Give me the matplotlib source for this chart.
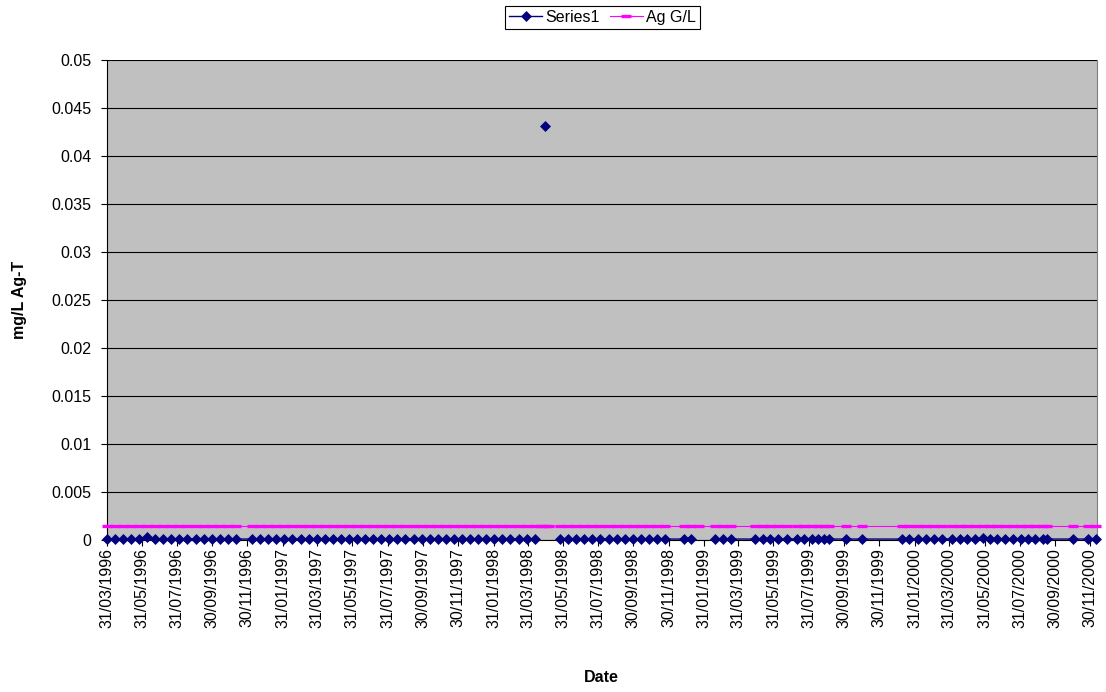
import numpy as np
import matplotlib
matplotlib.use("Agg")
import matplotlib.pyplot as plt
import matplotlib.dates as mdates
from datetime import datetime

plt.rcParams['font.family'] = ['Liberation Sans', 'DejaVu Sans']

# sample dates (rows of the sheet), Ag-T result (nan = blank cell), guideline value
sample_dates = [
    '1996-03-31', '1996-04-14', '1996-04-28', '1996-05-12', '1996-05-26', '1996-06-09',
    '1996-06-23', '1996-07-07', '1996-07-21', '1996-08-04', '1996-08-18', '1996-09-01',
    '1996-09-15', '1996-09-29', '1996-10-13', '1996-10-27', '1996-11-10',
    '1996-12-08', '1996-12-22', '1997-01-05', '1997-01-19', '1997-02-02', '1997-02-16',
    '1997-03-02', '1997-03-16', '1997-03-30', '1997-04-13', '1997-04-27', '1997-05-11',
    '1997-05-25', '1997-06-08', '1997-06-22', '1997-07-06', '1997-07-20', '1997-08-03',
    '1997-08-17', '1997-08-31', '1997-09-14', '1997-09-28', '1997-10-12', '1997-10-26',
    '1997-11-09', '1997-11-23', '1997-12-07', '1997-12-21', '1998-01-04', '1998-01-18',
    '1998-02-01', '1998-02-15', '1998-03-01', '1998-03-15', '1998-03-29', '1998-04-12',
    '1998-04-23', '1998-04-30', '1998-05-07',
    '1998-05-26', '1998-06-09', '1998-06-23', '1998-07-07', '1998-07-21', '1998-08-04',
    '1998-08-18', '1998-09-01', '1998-09-15', '1998-09-29', '1998-10-13', '1998-10-27',
    '1998-11-10', '1998-11-24',
    '1998-12-26', '1999-01-08', '1999-01-22',
    '1999-02-19', '1999-03-05', '1999-03-19',
    '1999-04-29', '1999-05-12', '1999-05-25', '1999-06-08', '1999-06-24', '1999-07-10',
    '1999-07-23', '1999-08-05', '1999-08-17', '1999-08-27', '1999-09-04',
    '1999-10-03', '1999-10-31',
    '2000-01-09', '2000-01-21', '2000-02-05', '2000-02-19', '2000-03-05', '2000-03-19',
    '2000-04-05', '2000-04-19', '2000-05-01', '2000-05-15', '2000-05-28', '2000-06-10',
    '2000-06-22', '2000-07-05', '2000-07-20', '2000-08-02', '2000-08-15', '2000-08-27',
    '2000-09-10', '2000-09-17',
    '2000-10-31', '2000-11-27', '2000-12-10',
]

nan = np.nan
ag_t = [
    0.0001, 0.0001, 0.0001, 0.0001, 0.0001, 0.0003,
    0.0001, 0.0001, 0.0001, 0.0001, 0.0001, 0.0001,
    0.0001, 0.0001, 0.0001, 0.0001, 0.0001,
    0.0001, 0.0001, 0.0001, 0.0001, 0.0001, 0.0001,
    0.0001, 0.0001, 0.0001, 0.0001, 0.0001, 0.0001,
    0.0001, 0.0001, 0.0001, 0.0001, 0.0001, 0.0001,
    0.0001, 0.0001, 0.0001, 0.0001, 0.0001, 0.0001,
    0.0001, 0.0001, 0.0001, 0.0001, 0.0001, 0.0001,
    0.0001, 0.0001, 0.0001, 0.0001, 0.0001, 0.0001,
    nan, 0.0431, nan,
    0.0001, 0.0001, 0.0001, 0.0001, 0.0001, 0.0001,
    0.0001, 0.0001, 0.0001, 0.0001, 0.0001, 0.0001,
    0.0001, 0.0001,
    0.0001, 0.0001, nan,
    0.0001, 0.0001, 0.0001,
    0.0001, 0.0001, 0.0001, 0.0001, 0.0001, 0.0001,
    0.0001, 0.0001, 0.0001, 0.0001, 0.0001,
    0.0001, 0.0001,
    0.0001, 0.0001, 0.0001, 0.0001, 0.0001, 0.0001,
    0.0001, 0.0001, 0.0001, 0.0001, 0.0002, 0.0001,
    0.0001, 0.0001, 0.0001, 0.0001, 0.0001, 0.0001,
    0.0001, 0.0001,
    0.0001, 0.0001, 0.0001,
]

ag_guideline = 0.0015

tick_labels = [
    '31/03/1996', '31/05/1996', '31/07/1996', '30/09/1996', '30/11/1996',
    '31/01/1997', '31/03/1997', '31/05/1997', '31/07/1997', '30/09/1997', '30/11/1997',
    '31/01/1998', '31/03/1998', '31/05/1998', '31/07/1998', '30/09/1998', '30/11/1998',
    '31/01/1999', '31/03/1999', '31/05/1999', '31/07/1999', '30/09/1999', '30/11/1999',
    '31/01/2000', '31/03/2000', '31/05/2000', '31/07/2000', '30/09/2000', '30/11/2000',
]
y_ticks = [0, 0.005, 0.01, 0.015, 0.02, 0.025, 0.03, 0.035, 0.04, 0.045, 0.05]
y_tick_labels = ['0', '0.005', '0.01', '0.015', '0.02', '0.025', '0.03',
                 '0.035', '0.04', '0.045', '0.05']

dates = [datetime.strptime(d, '%Y-%m-%d') for d in sample_dates]
tick_dates = [datetime.strptime(t, '%d/%m/%Y') for t in tick_labels]
guide = [ag_guideline] * len(dates)

fig = plt.figure(figsize=(11.06, 6.92), dpi=100)
ax = fig.add_axes([106.7 / 1106, 1 - 540 / 692, 989.8 / 1106, 480 / 692])
ax.set_facecolor('#C0C0C0')

ax.plot(dates, guide, color='#FF00FF', lw=0.8, marker='_', ms=6.5, mew=2.4,
        label='Ag G/L', clip_on=False, zorder=3)
ax.plot(dates, ag_t, color='#000080', lw=1.0, marker='D', ms=5.3, mew=0.5,
        mfc='#000080', mec='#000080', label='Series1', clip_on=False, zorder=4)

ax.set_xlim(datetime(1996, 3, 31), datetime(2000, 12, 11))
ax.set_ylim(0, 0.05)
ax.set_yticks(y_ticks)
ax.set_yticklabels(y_tick_labels)
ax.set_xticks(mdates.date2num(tick_dates))
ax.set_xticklabels(tick_labels, rotation=90)

ax.yaxis.grid(True, color='black', lw=0.8)
ax.set_axisbelow(True)
ax.tick_params(axis='both', direction='out', length=4, width=0.8,
               labelsize=11.5, colors='black')
ax.tick_params(axis='x', pad=2)
ax.tick_params(axis='y', pad=7)

for side in ['left', 'bottom']:
    ax.spines[side].set_color('black')
    ax.spines[side].set_linewidth(0.8)
ax.spines['top'].set_visible(False)
ax.spines['right'].set_color('#808080')
ax.spines['right'].set_linewidth(0.8)

ax.set_ylabel('mg/L Ag-T', fontsize=11.5, fontweight='bold')
ax.set_xlabel('Date', fontsize=11.5, fontweight='bold', labelpad=30)
ax.yaxis.set_label_coords(-0.081, 0.5)

handles, labels = ax.get_legend_handles_labels()
leg = fig.legend(handles[::-1], labels[::-1], loc='center', ncol=2,
                 bbox_to_anchor=(602.5 / 1106, 1 - 17.5 / 692),
                 fontsize=11.5, frameon=True, fancybox=False, framealpha=1,
                 edgecolor='black', handlelength=2.1, handletextpad=0.2,
                 columnspacing=0.6, borderpad=0.25, borderaxespad=0)
leg.get_frame().set_linewidth(0.8)

fig.savefig('out.png', dpi=100)
